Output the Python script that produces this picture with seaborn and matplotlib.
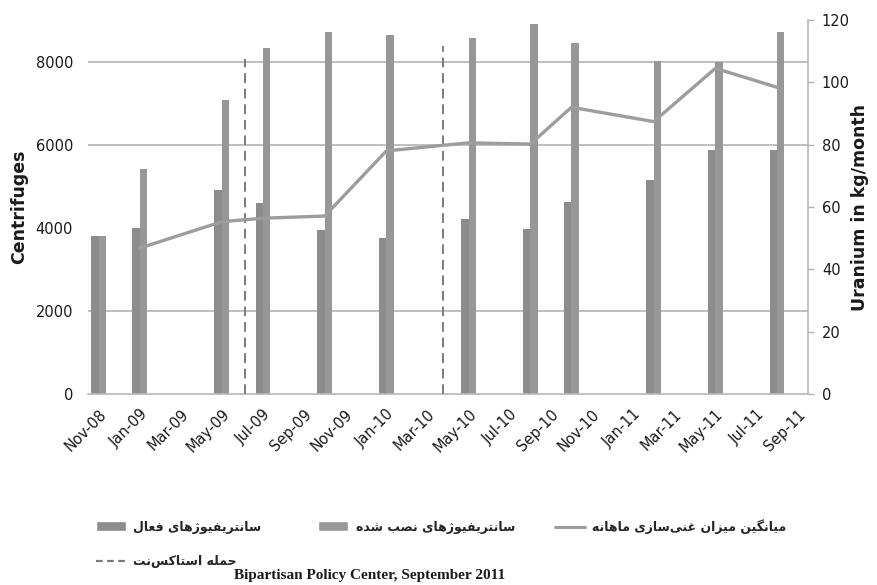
import matplotlib
matplotlib.use('Agg')
import matplotlib.pyplot as plt
from matplotlib.patches import Patch
from matplotlib.lines import Line2D
import seaborn as sns
import numpy as np
import pandas as pd


# ── Data ────────────────────────────────────────────────────────────────────
report_months = ['2008-11', '2009-01', '2009-05', '2009-07', '2009-10', '2010-01',
                 '2010-05', '2010-08', '2010-10', '2011-02', '2011-05', '2011-08']
active = [3800, 4000, 4900, 4600, 3950, 3750, 4200, 3980, 4620, 5160, 5880, 5880]
installed = [3800, 5420, 7070, 8330, 8710, 8640, 8570, 8900, 8450, 8010, 8000, 8710]

rate_months = report_months[1:]
rate = [46.8, 55.3, 56.4, 57.1, 78.0, 80.6, 80.2, 92.0, 87.4, 104.5, 98.4]

stuxnet_dates = ['2009-06-05', '2010-03-24']
stuxnet_top = [8050, 8380]

tick_labels = ['Nov-08', 'Jan-09', 'Mar-09', 'May-09', 'Jul-09', 'Sep-09', 'Nov-09',
               'Jan-10', 'Mar-10', 'May-10', 'Jul-10', 'Sep-10', 'Nov-10', 'Jan-11',
               'Mar-11', 'May-11', 'Jul-11', 'Sep-11']

lbl_active = 'سانتریفیوژهای فعال'
lbl_installed = 'سانتریفیوژهای نصب شده'
lbl_rate = 'میانگین میزان غنی\u200cسازی ماهانه'
lbl_stuxnet = 'حمله استاکس\u200cنت'
source = 'Bipartisan Policy Center, September 2011'

# ── Style ───────────────────────────────────────────────────────────────────
ACTIVE_C = '#8c8c8c'
INSTALLED_C = '#979797'
LINE_C = '#9d9d9d'
DASH_C = '#7a7a7a'
GRID_C = '#b4b4b4'
TEXT_C = '#1a1a1a'

# Arabic presentation forms: (isolated, final, initial, medial)
FORMS = {
    'ا': ('\uFE8D', '\uFE8E'), 'د': ('\uFEA9', '\uFEAA'), 'ر': ('\uFEAD', '\uFEAE'),
    'ز': ('\uFEAF', '\uFEB0'), 'و': ('\uFEED', '\uFEEE'), 'ژ': ('\uFB8A', '\uFB8B'),
    'ب': ('\uFE8F', '\uFE90', '\uFE91', '\uFE92'), 'ت': ('\uFE95', '\uFE96', '\uFE97', '\uFE98'),
    'ح': ('\uFEA1', '\uFEA2', '\uFEA3', '\uFEA4'), 'س': ('\uFEB1', '\uFEB2', '\uFEB3', '\uFEB4'),
    'ش': ('\uFEB5', '\uFEB6', '\uFEB7', '\uFEB8'), 'ص': ('\uFEB9', '\uFEBA', '\uFEBB', '\uFEBC'),
    'ع': ('\uFEC9', '\uFECA', '\uFECB', '\uFECC'), 'غ': ('\uFECD', '\uFECE', '\uFECF', '\uFED0'),
    'ف': ('\uFED1', '\uFED2', '\uFED3', '\uFED4'), 'ل': ('\uFEDD', '\uFEDE', '\uFEDF', '\uFEE0'),
    'م': ('\uFEE1', '\uFEE2', '\uFEE3', '\uFEE4'), 'ن': ('\uFEE5', '\uFEE6', '\uFEE7', '\uFEE8'),
    'ه': ('\uFEE9', '\uFEEA', '\uFEEB', '\uFEEC'), 'ی': ('\uFBFC', '\uFBFD', '\uFBFE', '\uFBFF'),
    'ک': ('\uFB8E', '\uFB8F', '\uFB90', '\uFB91'), 'گ': ('\uFB92', '\uFB93', '\uFB94', '\uFB95'),
}


def rtl(text):
    """Shape Persian text into presentation forms and reverse for LTR drawing."""
    out = []
    for i, c in enumerate(text):
        f = FORMS.get(c)
        if f is None:
            out.append(c)
            continue
        prev = text[i - 1] if i > 0 else None
        nxt = text[i + 1] if i < len(text) - 1 else None
        join_prev = prev in FORMS and len(FORMS[prev]) == 4
        join_next = len(f) == 4 and nxt in FORMS
        if join_prev and join_next:
            out.append(f[3])
        elif join_prev:
            out.append(f[1])
        elif join_next:
            out.append(f[2])
        else:
            out.append(f[0])
    return ''.join(out).replace('\u200c', '')[::-1]


def month_pos(s):
    """Months since Nov-2008 (fractional when a day is given)."""
    d = pd.Timestamp(s)
    pos = (d.year - 2008) * 12 + d.month - 11
    return pos + (d.day - 1) / d.days_in_month


sns.set_style('white')
plt.rcParams['font.family'] = ['DejaVu Sans']

fig = plt.figure(figsize=(8.78, 5.85), dpi=100)
ax = fig.add_axes([0.1005, 0.3265, 0.8197, 0.6393])

pos = [month_pos(m) for m in report_months]
df = pd.DataFrame({
    'pos': pos * 2,
    'count': active + installed,
    'type': ['active'] * len(pos) + ['installed'] * len(pos),
})
sns.barplot(data=df, x='pos', y='count', hue='type', hue_order=['active', 'installed'],
            palette={'active': ACTIVE_C, 'installed': INSTALLED_C}, native_scale=True,
            width=0.36, dodge=True, saturation=1, errorbar=None, legend=False,
            edgecolor='none', linewidth=0, ax=ax)

ax.vlines([month_pos(d) for d in stuxnet_dates], 0, stuxnet_top, colors=DASH_C,
          linestyles=(0, (5, 3)), linewidth=1.4, zorder=3)

ax.set_xlim(-0.5, 34.5)
ax.set_ylim(0, 9000)
ax.set_yticks(np.arange(0, 9000, 2000))
ax.set_xticks(np.arange(0, 35, 2))
ax.set_xticklabels(tick_labels, rotation=45, ha='right', rotation_mode='anchor', fontsize=10.5)
ax.tick_params(axis='x', length=0, pad=9, colors=TEXT_C)
ax.tick_params(axis='y', length=0, pad=11, labelsize=10.5, colors=TEXT_C)
ax.yaxis.grid(True, color=GRID_C, linewidth=1.2)
ax.get_ygridlines()[0].set_visible(False)
ax.get_ygridlines()[2].set_visible(False)
ax.set_axisbelow(True)
for s in ['top', 'left', 'right']:
    ax.spines[s].set_visible(False)
ax.spines['bottom'].set_color('#b8b8b8')
ax.spines['bottom'].set_linewidth(1.2)
ax.set_xlabel('')
ax.set_ylabel('Centrifuges', fontsize=12.5, fontweight='bold', color=TEXT_C, labelpad=5)

ax2 = ax.twinx()
sns.lineplot(x=[month_pos(m) for m in rate_months], y=rate, ax=ax2, color=LINE_C,
             linewidth=2.4, legend=False)
ax2.set_ylim(0, 120)
ax2.set_yticks(np.arange(0, 121, 20))
ax2.tick_params(axis='y', length=4, width=1, pad=6, labelsize=10.5, colors=TEXT_C)
ax2.tick_params(axis='y', color='#b0b0b0')
for s in ['top', 'left', 'bottom']:
    ax2.spines[s].set_visible(False)
ax2.spines['right'].set_color('#b8b8b8')
ax2.spines['right'].set_linewidth(1.2)
ax2.set_ylabel('Uranium in kg/month', fontsize=12.5, fontweight='bold', color=TEXT_C, labelpad=1)

# ── Legend (RTL labels, placed like the reference) ─────────────────────────
items = [
    (Patch(facecolor=ACTIVE_C), lbl_active, 96, 527),
    (Patch(facecolor=INSTALLED_C), lbl_installed, 318, 527),
    (Line2D([], [], color=LINE_C, linewidth=2.2), lbl_rate, 555, 527),
    (Line2D([], [], color=DASH_C, linewidth=1.6, linestyle=(0, (3, 2))), lbl_stuxnet, 96, 562),
]
for handle, label, px, py in items:
    fig.legend([handle], [rtl(label)], loc='center left',
               bbox_to_anchor=(px / 878, 1 - py / 585), frameon=False,
               handlelength=2.4, handleheight=0.9, handletextpad=0.6, borderpad=0,
               borderaxespad=0, prop={'family': 'DejaVu Sans', 'weight': 'bold', 'size': 9})

fig.text(370 / 878, 1 - 576 / 585, source, ha='center', va='center', fontsize=11,
         fontweight='bold', family='Liberation Serif', color=TEXT_C)

fig.savefig('out.png', dpi=100, facecolor='white')
